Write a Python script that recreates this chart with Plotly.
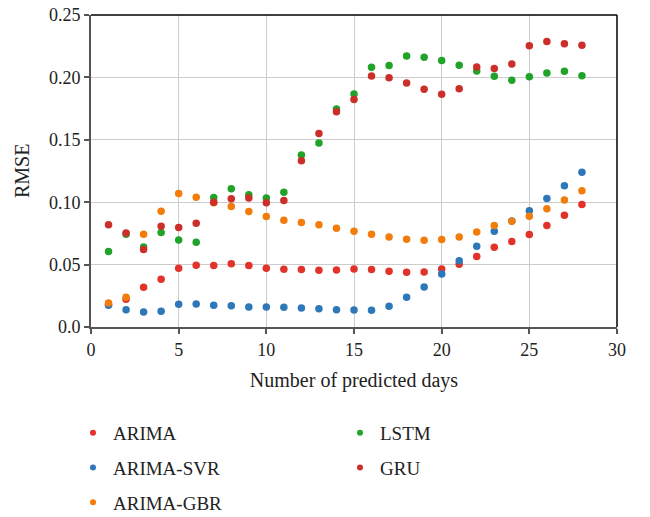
import plotly.graph_objects as go

days = list(range(1, 29))

arima = [0.018, 0.0222, 0.0318, 0.0383, 0.047, 0.0495, 0.0492, 0.0506, 0.0492, 0.047,
         0.0463, 0.046, 0.0455, 0.0457, 0.0465, 0.046, 0.0447, 0.0439, 0.0441, 0.0465,
         0.0503, 0.0564, 0.0639, 0.0685, 0.0741, 0.0813, 0.0896, 0.0982]
arima_svr = [0.0174, 0.0139, 0.012, 0.0126, 0.0182, 0.0185, 0.0174, 0.0171, 0.016, 0.016,
             0.0158, 0.0152, 0.0147, 0.0139, 0.0136, 0.0134, 0.0166, 0.0238, 0.0321, 0.0425,
             0.053, 0.0647, 0.0768, 0.085, 0.0931, 0.103, 0.1132, 0.1239]
arima_gbr = [0.0193, 0.0238, 0.0744, 0.0928, 0.107, 0.104, 0.0995, 0.0966, 0.0926, 0.0886,
             0.0856, 0.0837, 0.0819, 0.0792, 0.0768, 0.0744, 0.0722, 0.0704, 0.0696, 0.0701,
             0.0722, 0.0762, 0.0813, 0.0848, 0.0888, 0.0947, 0.1017, 0.1092]
lstm = [0.0605, 0.0744, 0.0642, 0.0757, 0.0698, 0.068, 0.1038, 0.1108, 0.106, 0.1033,
        0.108, 0.1378, 0.1474, 0.1747, 0.1867, 0.2081, 0.2095, 0.2172, 0.2162, 0.2135,
        0.2097, 0.2052, 0.2009, 0.1977, 0.2006, 0.2036, 0.2049, 0.2014]
gru = [0.0819, 0.0754, 0.062, 0.0808, 0.0797, 0.0832, 0.1, 0.1027, 0.1033, 0.0995,
       0.1014, 0.1332, 0.155, 0.1725, 0.1822, 0.2012, 0.1998, 0.1956, 0.1905, 0.1865,
       0.191, 0.2084, 0.2071, 0.2108, 0.2253, 0.2287, 0.2269, 0.2258]

series_names = ["ARIMA", "ARIMA-SVR", "ARIMA-GBR", "LSTM", "GRU"]
series_values = [arima, arima_svr, arima_gbr, lstm, gru]
series_colors = ["#e2332a", "#2e77b8", "#f27c0c", "#21a32a", "#cc2f29"]
series_legends = ["legend", "legend", "legend", "legend2", "legend2"]

x_ticks = [0, 5, 10, 15, 20, 25, 30]
y_ticks = [0.0, 0.05, 0.10, 0.15, 0.20, 0.25]
y_tick_labels = ["0.0", "0.05", "0.10", "0.15", "0.20", "0.25"]
x_title = "Number of predicted days"
y_title = "RMSE"

FONT = "Liberation Serif"

fig = go.Figure()
for name, vals, col in zip(series_names, series_values, series_colors):
    fig.add_trace(go.Scatter(
        x=days, y=vals, mode="markers", name=name,
        marker=dict(color=col, size=7.5), showlegend=False,
    ))
# legend entries (smaller markers as in the reference)
for name, col, lg in zip(series_names, series_colors, series_legends):
    fig.add_trace(go.Scatter(
        x=[None], y=[None], mode="markers", name=name,
        marker=dict(color=col, size=6), legend=lg, legendgroup=name,
    ))

legend_common = dict(
    font=dict(family=FONT, size=19, color="#222"),
    bgcolor="rgba(0,0,0,0)",
    itemsizing="trace",
    tracegroupgap=7,
    xref="container", yref="container",
    xanchor="left", yanchor="top",
)

fig.update_layout(
    width=650, height=517,
    margin=dict(l=91, r=33, t=15, b=190, autoexpand=False),
    paper_bgcolor="white", plot_bgcolor="white",
    font=dict(family=FONT, size=16, color="#222"),
    showlegend=True,
    legend=dict(x=73/650, y=1 - 414/517, **legend_common),
    legend2=dict(x=340/650, y=1 - 414/517, **legend_common),
    xaxis=dict(
        range=[0, 30], tickvals=x_ticks, ticks="outside", ticklen=5, tickwidth=2,
        tickcolor="#555", showline=True, linecolor="#555", linewidth=2,
        showgrid=True, gridcolor="#cccccc", gridwidth=1, zeroline=False,
        tickfont=dict(family=FONT, size=18),
        title=dict(text=x_title, font=dict(family=FONT, size=20), standoff=14),
    ),
    yaxis=dict(
        range=[0, 0.25], tickvals=y_ticks, ticktext=y_tick_labels, ticks="outside",
        ticklen=5, tickwidth=2, tickcolor="#555", showline=True, linecolor="#555",
        linewidth=2, showgrid=True, gridcolor="#cccccc", gridwidth=1, zeroline=False,
        tickfont=dict(family=FONT, size=18),
    ),
    annotations=[
        dict(text=y_title, xref="paper", yref="paper", x=-69/526, y=0.5,
             xanchor="center", yanchor="middle", textangle=-90, showarrow=False,
             font=dict(family=FONT, size=20, color="#222")),
    ],
    shapes=[
        dict(type="line", xref="paper", yref="paper", x0=0, x1=1, y0=1, y1=1,
             line=dict(color="black", width=1.5)),
        dict(type="line", xref="paper", yref="paper", x0=1, x1=1, y0=0, y1=1,
             line=dict(color="black", width=1.5)),
    ],
)

fig.write_html("out.html")
